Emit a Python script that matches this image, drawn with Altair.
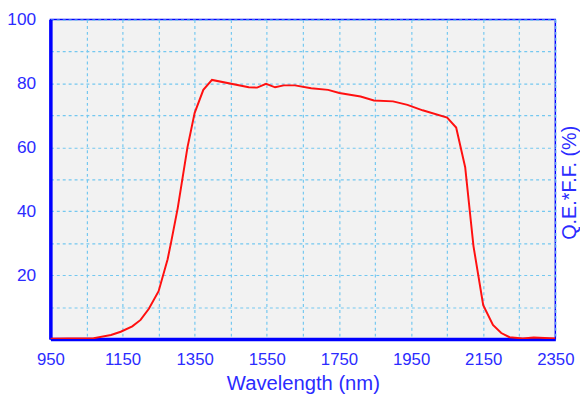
import altair as alt
import pandas as pd

wavelength = [950, 1000, 1070, 1118, 1145, 1177, 1200, 1223, 1250, 1275, 1285, 1303,
              1330, 1350, 1374, 1398, 1500, 1523, 1548, 1573, 1597, 1628, 1673, 1720,
              1751, 1810, 1847, 1900, 1940, 1982, 2050, 2075, 2100, 2123, 2150, 2177,
              2200, 2223, 2260, 2290, 2350]
qe = [0.1, 0.2, 0.3, 1.3, 2.3, 4.0, 6.0, 9.5, 15.0, 25.0, 30.5, 41.0,
      60.0, 70.8, 78.0, 81.1, 78.8, 78.7, 79.9, 78.8, 79.4, 79.4, 78.5, 78.0,
      77.0, 75.9, 74.7, 74.4, 73.3, 71.6, 69.3, 66.2, 53.8, 29.1, 10.6, 4.4,
      1.9, 0.6, 0.2, 0.5, 0.2]

x_ticks = list(range(950, 2351, 100))
y_ticks = list(range(0, 101, 10))

df = pd.DataFrame({"wavelength": wavelength, "qe": qe})

blue_text = "#2b2bff"
font = "Liberation Sans"

chart = alt.Chart(df).mark_line(color="#ff1010", strokeWidth=2, clip=True).encode(
    x=alt.X("wavelength:Q",
            scale=alt.Scale(domain=[950, 2350], nice=False, zero=False),
            axis=alt.Axis(values=x_ticks, format="d",
                          labelExpr="(datum.value - 950) % 200 == 0 ? datum.label : ''",
                          title="Wavelength (nm)", titleBaseline="alphabetic", titleY=51,
                          titleFontSize=20.5, labelPadding=13, labelFontSize=17,
                          labelFlush=False)),
    y=alt.Y("qe:Q",
            scale=alt.Scale(domain=[0, 100], nice=False),
            axis=alt.Axis(values=y_ticks,
                          labelExpr="datum.value % 20 == 0 && datum.value > 0 ? datum.label : ''",
                          title="Q.E.*F.F. (%)", titleBaseline="alphabetic",
                          titleX=532, titleY=165, titleFontSize=20,
                          labelPadding=15, labelFontSize=17.5, labelFlush=False)),
).properties(
    width=512, height=324,
    padding={"left": 43, "top": 9, "right": 25, "bottom": 56},
    autosize=alt.AutoSizeParams(type="none"),
    background="white",
).configure_view(
    fill="#f2f2f2", stroke="#0000ff", strokeWidth=1.5
).configure_axis(
    domainColor="#0000ff", domainWidth=3.5, ticks=False,
    grid=True, gridColor="#74c8f0", gridDash=[3, 3], gridWidth=1.2,
    labelColor=blue_text, labelFont=font,
    titleColor=blue_text, titleFont=font, titleFontWeight="normal",
)

chart.save("out.html", embed_options={"renderer": "svg", "actions": False})
